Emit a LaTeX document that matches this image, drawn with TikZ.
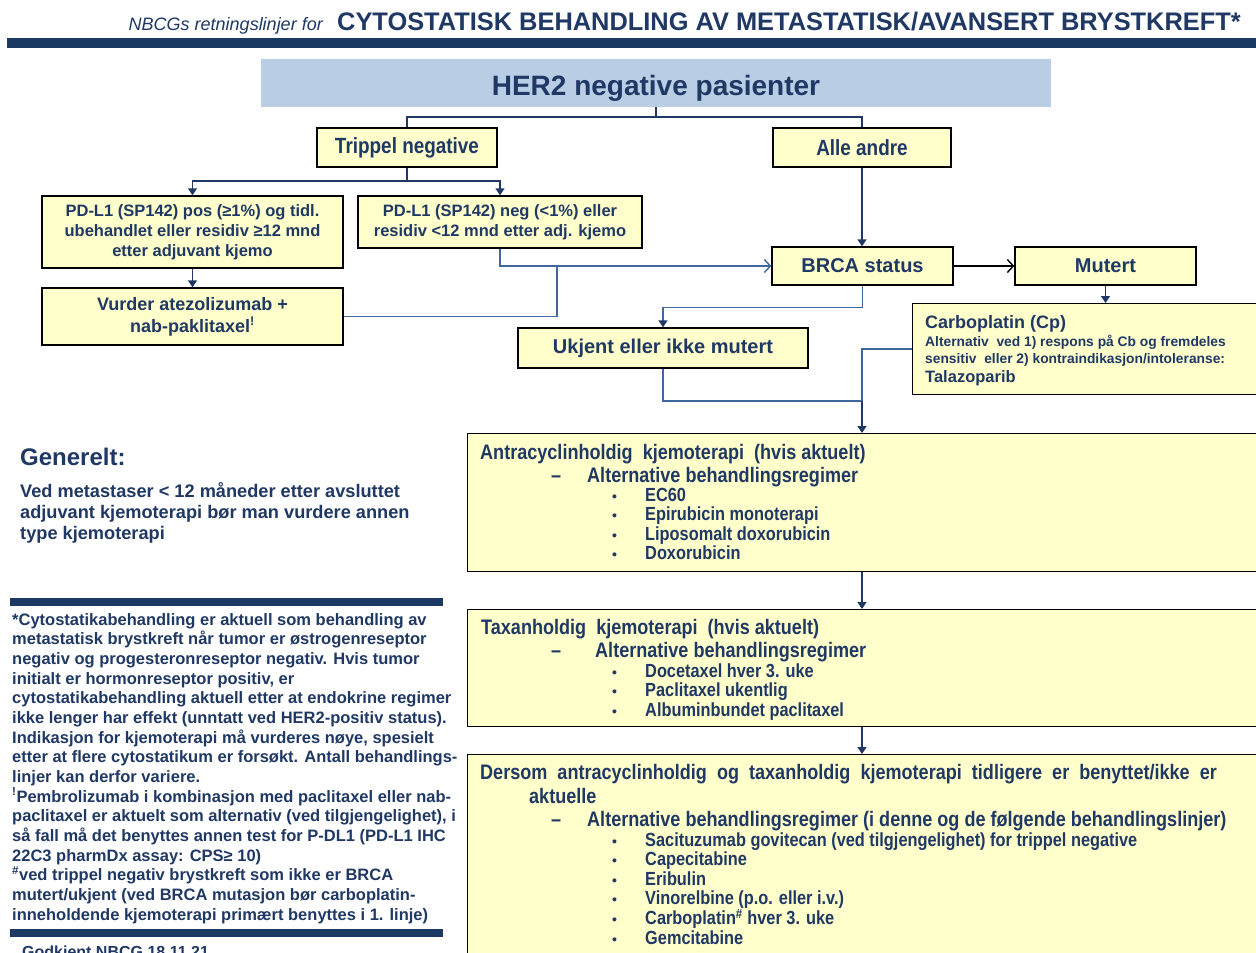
\documentclass[tikz,border=0pt]{standalone}
\usepackage{fontspec}
\setmainfont{Liberation Sans}
\newfontfamily\narrowfont[FakeStretch=0.86]{Liberation Sans}
\usetikzlibrary{calc}
\usetikzlibrary{positioning}
\usetikzlibrary{arrows.meta}
\definecolor{navy}{HTML}{1F3864}
\definecolor{barblue}{HTML}{1B3A63}
\definecolor{herblue}{HTML}{B9CDE5}
\definecolor{paleyellow}{HTML}{FFFFCC}
\definecolor{lineblue}{HTML}{4068A0}
\newcommand{\setpx}[1]{\fontsize{#1}{#1}\selectfont}
\newcommand{\setlead}[2]{\fontsize{#1}{#2}\selectfont}

\begin{document}
\begin{tikzpicture}[x=1pt, y=-1pt,
    box/.style={rectangle, draw=black, line width=1.4pt, fill=paleyellow, text=navy,
        font=\bfseries\setpx{20}, align=center, inner sep=0pt},
    bigbox/.style={box, anchor=north west, minimum width=795, line width=1.2pt},
    txt/.style={anchor=base west, inner sep=0pt, text=navy, font=\bfseries\setpx{16.5}},
    head/.style={txt, font=\narrowfont\bfseries\setpx{21}},
    sub/.style={txt, font=\narrowfont\bfseries\setpx{21}},
    item/.style={txt, font=\narrowfont\bfseries\setpx{19}},
    bul/.style={txt, font=\bfseries\setpx{14}},
    link/.style={draw=navy, line width=1.4pt},
    blink/.style={draw=lineblue, line width=1.4pt},
    arr/.style={link, -{Triangle[length=7pt, width=9pt]}},
    barr/.style={blink, -{Triangle[length=7pt, width=9pt, color=navy]}},
    openarr/.style={blink, -{Straight Barb[length=6pt, width=13pt]}}]
    \useasboundingbox (0,0) rectangle (1256,953);
    \fill[white] (0,0) rectangle (1256,953);

    \node[anchor=base east, inner sep=0pt, text=navy, font=\itshape\setpx{18}] (subtitle) at (323,30) {NBCGs retningslinjer for};
    \node[anchor=base west, inner sep=0pt, text=navy, font=\bfseries\setpx{25.4}] (title) at (337,30) {CYTOSTATISK BEHANDLING AV METASTATISK/AVANSERT BRYSTKREFT*};
    \fill[barblue] (7,38) rectangle (1256,48);

    \node[fill=herblue, minimum width=790, minimum height=48, inner sep=0pt, text height=24, text depth=0, text=navy, font=\bfseries\setpx{28}] (her) at (656,83) {HER2 negative pasienter};

    \node[box, font=\narrowfont\bfseries\setpx{22}, minimum width=180, minimum height=39] (trip) at (407,147.5) {Trippel negative};
    \node[box, font=\narrowfont\bfseries\setpx{22}, minimum width=178, minimum height=39] (alle) at (862,147.5) {Alle andre};
    \node[box, font=\bfseries\setlead{16.5}{20}, minimum width=301, minimum height=72] (pos) at (192.5,232) {PD-L1 (SP142) pos (≥1\%) og tidl.\\ubehandlet eller residiv ≥12 mnd\\etter adjuvant kjemo};
    \node[box, font=\bfseries\setlead{16.5}{20}, minimum width=284, minimum height=52] (neg) at (500,222) {PD-L1 (SP142) neg (<1\%) eller\\residiv <12 mnd etter adj. kjemo};
    \node[box, font=\bfseries\setlead{18}{22}, minimum width=301, minimum height=57] (vurd) at (192.5,316.5) {Vurder atezolizumab +\\nab-paklitaxel\textsuperscript{!}};
    \node[box, minimum width=181, minimum height=38] (brca) at (862.5,266) {BRCA status};
    \node[box, minimum width=181, minimum height=38] (mut) at (1105.5,266) {Mutert};
    \node[box, minimum width=290, minimum height=40] (ukj) at (663,348) {Ukjent eller ikke mutert};
    \node[box, anchor=north west, minimum width=350, minimum height=91, line width=1.2pt] (carbo) at (912,303) {};
    \node[txt, font=\bfseries\setpx{18}] (carbo1) at (925,328) {Carboplatin (Cp)};
    \node[txt, font=\bfseries\setpx{13.8}] (carbo2) at (925,346) {Alternativ\ \ ved 1) respons på Cb og fremdeles};
    \node[txt, font=\bfseries\setpx{13.8}] (carbo3) at (925,363) {sensitiv\ \ eller 2) kontraindikasjon/intoleranse:};
    \node[txt, font=\bfseries\setpx{16.5}] (carbo4) at (925,382) {Talazoparib};

    \coordinate (jh) at (656,117);
    \coordinate (jt) at (407,181);
    \coordinate (jv) at (557,266);
    \coordinate (jc) at (862,401);
    \draw[link] (her.south) -- (jh);
    \draw[link] (trip.north) |- (jh) -| (alle.north);
    \draw[link] (trip.south) -- (jt);
    \draw[arr] (jt) -| (pos.north);
    \draw[arr] (jt) -| (neg.north);
    \draw[arr] (pos.south) -- (vurd.north);
    \draw[openarr] (neg.south) |- (brca.west);
    \draw[blink] (vurd.east) -| (jv);
    \draw[arr] (alle.south) -- (alle.south |- brca.north);
    \draw[draw=black, line width=1.4pt, -{Straight Barb[length=6pt, width=13pt]}] (brca.east) -- (mut.west);
    \draw[arr] (mut.south) -- (mut.south |- carbo.north);
    \draw[barr] (brca.south) -- ++(0,22) -| (ukj.north);
    \draw[blink] (ukj.south) |- (jc);
    \draw[blink] (carbo.west) -| (jc);

    \node[bigbox, minimum height=138] (antra) at (467,433) {};
    \node[bigbox, minimum height=117] (taxan) at (467,609) {};
    \node[bigbox, minimum height=206] (dersom) at (467,754) {};
    \draw[arr] (jc) -- (jc |- antra.north);
    \draw[arr] (antra.south -| jc) -- (jc |- taxan.north);
    \draw[arr] (taxan.south -| jc) -- (jc |- dersom.north);

    \node[head] (antrah) at (480,459) {Antracyclinholdig\ \ kjemoterapi\ \ (hvis aktuelt)};
    \node[sub] (antrad) at (551,482) {–};
    \node[sub] (antras) at (587,482) {Alternative behandlingsregimer};
    \foreach \t[count=\i from 0] in {EC60, Epirubicin monoterapi, Liposomalt doxorubicin, Doxorubicin}
    {
        \node[bul] (antrab\i) at (612,501+19.5*\i) {•};
        \node[item] (antrai\i) at (645,501+19.5*\i) {\t};
    }

    \node[head] (taxanh) at (481,634) {Taxanholdig\ \ kjemoterapi\ \ (hvis aktuelt)};
    \node[sub] (taxand) at (551,657) {–};
    \node[sub] (taxans) at (595,657) {Alternative behandlingsregimer};
    \foreach \t[count=\i from 0] in {Docetaxel hver 3. uke, Paclitaxel ukentlig, Albuminbundet paclitaxel}
    {
        \node[bul] (taxanb\i) at (612,677+19.5*\i) {•};
        \node[item] (taxani\i) at (645,677+19.5*\i) {\t};
    }

    \node[head] (dersomh) at (480,779) {Dersom\ \ antracyclinholdig\ \ og\ \ taxanholdig\ \ kjemoterapi\ \ tidligere\ \ er\ \ benyttet/ikke\ \ er};
    \node[head] (dersomh2) at (529,803) {aktuelle};
    \node[sub] (dersomd) at (551,826) {–};
    \node[sub] (dersoms) at (587,826) {Alternative behandlingsregimer (i denne og de følgende behandlingslinjer)};
    \foreach \t[count=\i from 0] in {Sacituzumab govitecan (ved tilgjengelighet) for trippel negative, Capecitabine, Eribulin, Vinorelbine (p.o. eller i.v.), Carboplatin\textsuperscript{\#} hver 3. uke, Gemcitabine}
    {
        \node[bul] (dersomb\i) at (612,846+19.6*\i) {•};
        \node[item] (dersomi\i) at (645,846+19.6*\i) {\t};
    }

    \node[txt, font=\bfseries\setpx{24}] (gen) at (20,465) {Generelt:};
    \foreach \t[count=\i from 0] in {Ved metastaser < 12 måneder etter avsluttet, adjuvant kjemoterapi bør man vurdere annen, type kjemoterapi}
    {
        \node[txt, font=\bfseries\setpx{18.2}] (gen\i) at (20,497+21*\i) {\t};
    }

    \fill[barblue] (10,598) rectangle (443,606);
    \foreach \t[count=\i from 0] in {
        {*Cytostatikabehandling er aktuell som behandling av},
        {metastatisk brystkreft når tumor er østrogenreseptor},
        {negativ og progesteronreseptor negativ. Hvis tumor},
        {initialt er hormonreseptor positiv, er},
        {cytostatikabehandling aktuell etter at endokrine regimer},
        {ikke lenger har effekt (unntatt ved HER2-positiv status).},
        {Indikasjon for kjemoterapi må vurderes nøye, spesielt},
        {etter at flere cytostatikum er forsøkt. Antall behandlings-},
        {linjer kan derfor variere.},
        {\textsuperscript{!}Pembrolizumab i kombinasjon med paclitaxel eller nab-},
        {paclitaxel er aktuelt som alternativ (ved tilgjengelighet), i},
        {så fall må det benyttes annen test for P-DL1 (PD-L1 IHC},
        {22C3 pharmDx assay: CPS≥ 10)},
        {\textsuperscript{\#}ved trippel negativ brystkreft som ikke er BRCA},
        {mutert/ukjent (ved BRCA mutasjon bør carboplatin-},
        {inneholdende kjemoterapi primært benyttes i 1. linje)}}
    {
        \node[txt] (note\i) at (12,625+19.67*\i) {\t};
    }
    \fill[barblue] (10,929) rectangle (443,937);
    \node[txt, font=\bfseries\setpx{16}] (godkjent) at (22,957) {Godkjent NBCG 18.11.21};
\end{tikzpicture}
\end{document}
